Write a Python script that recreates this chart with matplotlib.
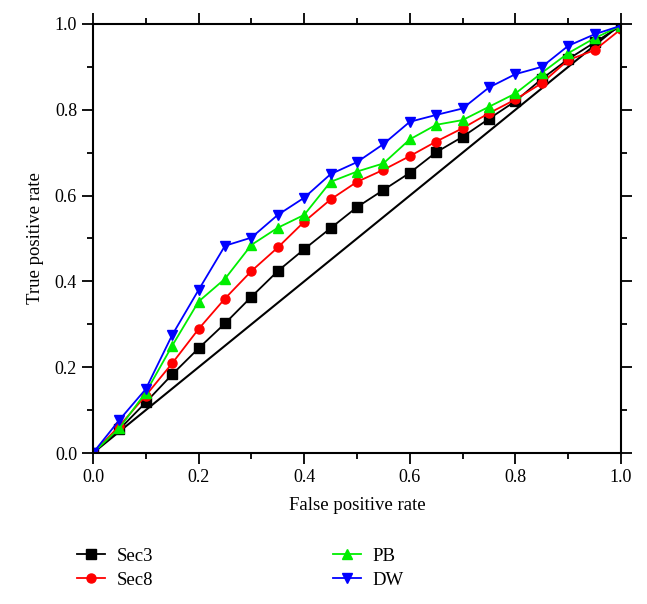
import matplotlib
matplotlib.use("Agg")
import matplotlib.pyplot as plt
from matplotlib.ticker import MultipleLocator

fpr = [0.0, 0.05, 0.10, 0.15, 0.20, 0.25, 0.30, 0.35, 0.40, 0.45, 0.50,
       0.55, 0.60, 0.65, 0.70, 0.75, 0.80, 0.85, 0.90, 0.95, 1.0]
sec3 = [0.0, 0.055, 0.118, 0.183, 0.244, 0.302, 0.364, 0.424, 0.475, 0.524, 0.573,
        0.613, 0.653, 0.701, 0.737, 0.779, 0.820, 0.872, 0.918, 0.957, 0.996]
sec8 = [0.0, 0.063, 0.134, 0.209, 0.289, 0.360, 0.424, 0.479, 0.539, 0.591, 0.632,
        0.660, 0.692, 0.726, 0.757, 0.792, 0.824, 0.862, 0.916, 0.939, 0.988]
pb = [0.0, 0.058, 0.141, 0.250, 0.353, 0.406, 0.485, 0.525, 0.555, 0.632, 0.656,
      0.675, 0.731, 0.765, 0.776, 0.807, 0.838, 0.886, 0.932, 0.967, 0.996]
dw = [0.0, 0.077, 0.149, 0.275, 0.380, 0.483, 0.502, 0.555, 0.595, 0.650, 0.678,
      0.720, 0.772, 0.788, 0.803, 0.852, 0.883, 0.900, 0.949, 0.976, 0.996]
diag = [0.0, 1.0]

series_names = ["Sec3", "Sec8", "PB", "DW"]

plt.rcParams['font.family'] = ['Liberation Serif', 'DejaVu Serif']

fig = plt.figure(figsize=(6.47, 6.04), dpi=100)
ax = fig.add_axes([0.1437, 0.25, 0.8161, 0.7103])

ax.plot(diag, diag, color='black', lw=1.5, zorder=1)
styles = [(sec3, 'black', 's'), (sec8, 'red', 'o'), (pb, '#00ee00', '^'), (dw, '#0000ff', 'v')]
handles = []
for (vals, col, mk), name in zip(styles, series_names):
    h, = ax.plot(fpr, vals, color=col, marker=mk, markersize=6.5, lw=1.3,
                 markeredgecolor=col, label=name, zorder=2)
    handles.append(h)

ax.set_xlim(0, 1)
ax.set_ylim(0, 1)
ax.xaxis.set_major_locator(MultipleLocator(0.2))
ax.xaxis.set_minor_locator(MultipleLocator(0.1))
ax.yaxis.set_major_locator(MultipleLocator(0.2))
ax.yaxis.set_minor_locator(MultipleLocator(0.1))
ax.tick_params(which='both', direction='out', top=True, right=True, width=1.3,
               labelsize=13)
ax.tick_params(which='major', length=8)
ax.tick_params(which='minor', length=4.5)
ax.tick_params(labeltop=False, labelright=False)
ax.xaxis.set_major_formatter(plt.FuncFormatter(lambda v, p: f"{v:.1f}"))
ax.yaxis.set_major_formatter(plt.FuncFormatter(lambda v, p: f"{v:.1f}"))
for s in ax.spines.values():
    s.set_linewidth(1.5)

ax.set_xlabel("False positive rate", fontsize=13.5, labelpad=8)
ax.set_ylabel("True positive rate", fontsize=13.5, labelpad=8)

fig.legend(handles=handles, labels=series_names, ncol=2, frameon=False,
           loc='upper left', bbox_to_anchor=(0.093, 0.121), fontsize=13.5,
           handlelength=1.5, columnspacing=9.6, labelspacing=0.35,
           handletextpad=0.6)

fig.savefig("out.png", dpi=100)
